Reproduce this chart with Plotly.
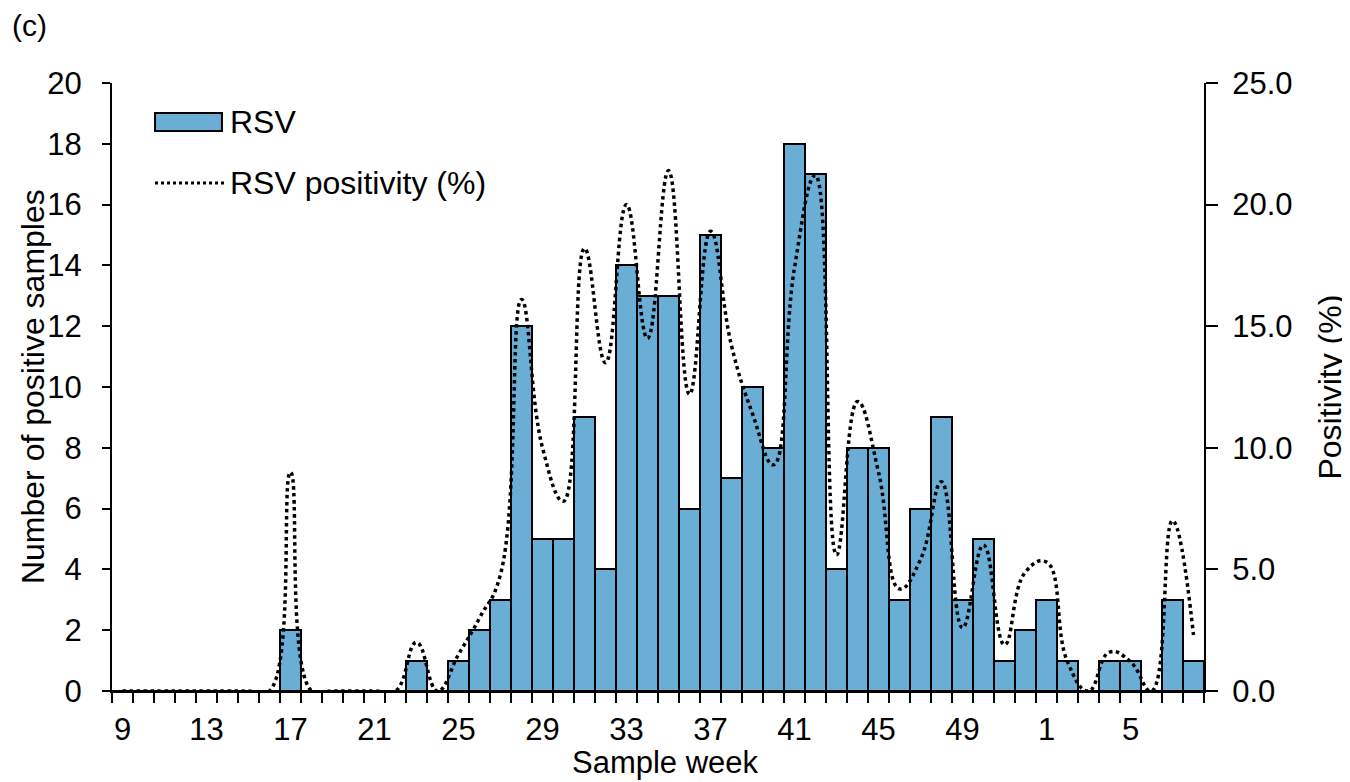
import plotly.graph_objects as go

# semanas de coleta (9..52 e depois 1..8 do ano seguinte)
semanas = [9, 10, 11, 12, 13, 14, 15, 16, 17, 18, 19, 20, 21, 22, 23, 24, 25, 26,
           27, 28, 29, 30, 31, 32, 33, 34, 35, 36, 37, 38, 39, 40, 41, 42, 43, 44,
           45, 46, 47, 48, 49, 50, 51, 52, 1, 2, 3, 4, 5, 6, 7, 8]

positivos = [0, 0, 0, 0, 0, 0, 0, 0, 2, 0, 0, 0, 0, 0, 1, 0, 1, 2,
             3, 12, 5, 5, 9, 4, 14, 13, 13, 6, 15, 7, 10, 8, 18, 17, 4, 8,
             8, 3, 6, 9, 3, 5, 1, 2, 3, 1, 0, 1, 1, 0, 3, 1]

positividade = [0, 0, 0, 0, 0, 0, 0, 0, 9.0, 0, 0, 0, 0, 0, 2.0, 0, 1.5, 3.0,
                4.8, 16.1, 10.0, 7.8, 18.2, 13.5, 20.0, 14.5, 21.4, 12.2, 18.9, 14.2, 11.4, 9.3, 17.4, 21.2, 5.6, 11.9,
                9.0, 4.2, 5.4, 8.6, 2.6, 6.0, 1.9, 4.9, 5.3, 1.2, 0, 1.6, 1.2, 0, 7.0, 2.3]

rotulos = [str(s) if i % 4 == 0 else '' for i, s in enumerate(semanas)]
cats = [str(s) for s in semanas]

fonte = 'Liberation Sans, Arial, sans-serif'
azul = '#6aaed6'

fig = go.Figure()
fig.add_trace(go.Bar(
    x=cats, y=positivos, name='RSV',
    marker=dict(color=azul, line=dict(color='black', width=2)),
))
fig.add_trace(go.Scatter(
    x=cats, y=positividade, name='RSV positivity (%)', yaxis='y2',
    mode='lines',
    line=dict(color='black', width=3.5, dash='dot', shape='spline', smoothing=1.3),
))

# a pagina tem margem de 8px no body, por isso a figura fica um pouco menor
fig.update_layout(
    width=1342, height=774,
    margin=dict(l=104, r=146, t=75, b=91),
    plot_bgcolor='white', paper_bgcolor='white',
    font=dict(family=fonte, size=31, color='black'),
    showlegend=False,
    bargap=0,
    xaxis=dict(
        type='category', tickmode='array', tickvals=cats, ticktext=rotulos,
        tickson='boundaries', ticks='outside', ticklen=10, tickwidth=2, tickcolor='black',
        showline=True, linecolor='black', linewidth=2, showgrid=False,
        tickangle=0, ticklabelstandoff=10, automargin=False,
    ),
    yaxis=dict(
        range=[0, 20], dtick=2, ticks='outside', ticklen=8, tickwidth=2, tickcolor='black',
        showline=True, linecolor='black', linewidth=2, showgrid=False, zeroline=False,
        ticklabelstandoff=14, automargin=False,
    ),
    yaxis2=dict(
        overlaying='y', side='right', range=[0, 25], dtick=5, tickformat='.1f',
        ticks='outside', ticklen=12, tickwidth=2, tickcolor='black',
        showline=True, linecolor='black', linewidth=2, showgrid=False, zeroline=False,
        ticklabelstandoff=8, automargin=False,
    ),
)

# titulos dos eixos
fig.add_annotation(text='Sample week', xref='paper', yref='paper', x=0.507, y=-0.117,
                   xanchor='center', yanchor='middle', showarrow=False, font=dict(size=31))
fig.add_annotation(text='Number of positive samples', xref='paper', yref='paper', x=-0.0723, y=0.5,
                   textangle=-90, xanchor='center', yanchor='middle', showarrow=False, font=dict(size=32))
fig.add_annotation(text='Positivity (%)', xref='paper', yref='paper', x=1.115, y=0.5,
                   textangle=-90, xanchor='center', yanchor='middle', showarrow=False, font=dict(size=32))

# legenda desenhada à mão (caixa larga como no original)
fig.add_shape(type='rect', xref='paper', yref='paper',
              x0=0.0394, x1=0.1007, y0=0.921, y1=0.9507,
              fillcolor=azul, line=dict(color='black', width=2))
fig.add_shape(type='line', xref='paper', yref='paper',
              x0=0.0394, x1=0.1053, y0=0.8355, y1=0.8355,
              line=dict(color='black', width=3, dash='dot'))
fig.add_annotation(text='RSV', xref='paper', yref='paper', x=0.1062, y=0.936,
                   xanchor='left', yanchor='middle', showarrow=False, font=dict(size=32))
fig.add_annotation(text='RSV positivity (%)', xref='paper', yref='paper', x=0.1062, y=0.8355,
                   xanchor='left', yanchor='middle', showarrow=False, font=dict(size=32))
fig.add_annotation(text='(c)', xref='paper', yref='paper', x=-0.0934, y=1.095,
                   xanchor='left', yanchor='middle', showarrow=False, font=dict(size=30))

fig.write_html('out.html')
